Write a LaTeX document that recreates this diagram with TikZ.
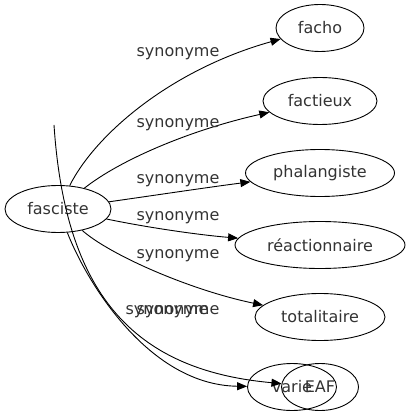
\documentclass[tikz,border=0pt]{standalone}
\usepackage{fontspec}
\setmainfont{DejaVu Sans}
\usetikzlibrary{shapes.geometric,arrows.meta}
\tikzset{
    EL/.style ={ellipse, draw, inner sep=0pt, minimum height=47pt, text=black!80, font=\fontsize{16}{19}\selectfont},
    LB/.style ={inner sep=0pt, text=black!80, font=\fontsize{16}{19}\selectfont},
    AR/.style ={-{Triangle[length=10pt,width=8pt]}, line width=0.9pt}
}
\begin{document}
\begin{tikzpicture}[x=1pt,y=-1pt,line width=0.9pt]
    \useasboundingbox (0,0) rectangle (408,419);
    \node[EL,minimum width=106pt] (fasciste) at (58,209) {fasciste};
    \node[EL,minimum width=88pt] (facho) at (320,28) {facho};
    \node[EL,minimum width=114pt] (factieux) at (320,101) {factieux};
    \node[EL,minimum width=149pt] (phalangiste) at (320,173) {phalangiste};
    \node[EL,minimum width=170pt] (reactionnaire) at (320,245) {réactionnaire};
    \node[EL,minimum width=130pt] (totalitaire) at (320,317) {totalitaire};
    \node[EL,minimum width=89pt] (varie) at (292,387) {varie};
    \node[EL,minimum width=77pt] (EAF) at (320,387) {EAF};
    \coordinate (tail) at (54,125);
    % edges
    \draw[AR] (fasciste) .. controls (95,135) and (170,70) .. (facho);
    \draw[AR] (fasciste) .. controls (120,160) and (190,130) .. (factieux);
    \draw[AR] (fasciste) .. controls (150,196) and (210,187) .. (phalangiste);
    \draw[AR] (fasciste) .. controls (150,228) and (200,235) .. (reactionnaire);
    \draw[AR] (fasciste) .. controls (110,255) and (190,290) .. (totalitaire);
    \draw[AR] (fasciste) .. controls (88,285) and (150,385) .. (varie);
    \draw[AR] (tail) .. controls (65,290) and (130,370) .. (EAF);
    % labels
    \node[LB] (s1) at (178,54) {synonyme};
    \node[LB] (s2) at (178,125) {synonyme};
    \node[LB] (s3) at (178,181) {synonyme};
    \node[LB] (s4) at (178,218) {synonyme};
    \node[LB] (s5) at (178,256) {synonyme};
    \node[LB] (s6) at (167,312) {synonyme};
    \node[LB] (s7) at (178,312) {synonyme};
\end{tikzpicture}
\end{document}
